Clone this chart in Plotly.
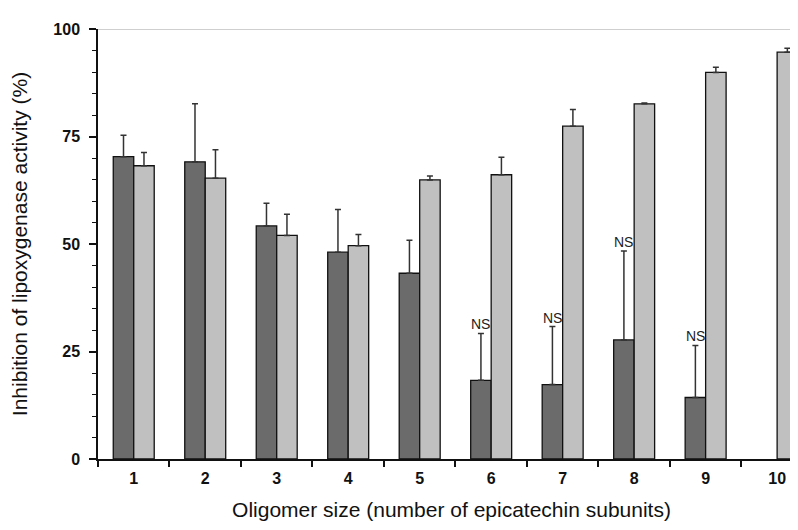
import plotly.graph_objects as go

categories = ["1", "2", "3", "4", "5", "6", "7", "8", "9", "10"]
dark_values = [70.3, 69.1, 54.2, 48.1, 43.2, 18.3, 17.3, 27.7, 14.3, None]
dark_errors = [5.0, 13.5, 5.3, 9.9, 7.7, 10.9, 13.5, 20.7, 12.1, None]
light_values = [68.2, 65.3, 52.0, 49.6, 64.9, 66.1, 77.4, 82.6, 89.9, 94.6]
light_errors = [3.1, 6.6, 4.9, 2.6, 0.9, 4.1, 3.9, 0.2, 1.2, 0.9]
ns_categories = ["6", "7", "8", "9"]
y_tick_vals = [0, 25, 50, 75, 100]

fig = go.Figure()

fig.add_trace(go.Bar(
    x=categories, y=dark_values, name="Series A",
    marker=dict(color="#6b6b6b", line=dict(color="#111111", width=1.3)),
    error_y=dict(type="data", array=dark_errors, arrayminus=[0] * len(dark_errors),
                 symmetric=False, color="#333333", thickness=1.5, width=3),
))
fig.add_trace(go.Bar(
    x=categories, y=light_values, name="Series B",
    marker=dict(color="#c0c0c0", line=dict(color="#111111", width=1.3)),
    error_y=dict(type="data", array=light_errors, arrayminus=[0] * len(light_errors),
                 symmetric=False, color="#333333", thickness=1.5, width=3),
))

bargap = 0.427
cat_px = 707 / 9.89
bar_px = cat_px * (1 - bargap) / 2

for c in ns_categories:
    i = categories.index(c)
    fig.add_annotation(
        x=i, y=dark_values[i] + dark_errors[i], xref="x", yref="y",
        text="NS", showarrow=False, yanchor="bottom", xshift=-bar_px / 2, yshift=-1,
        font=dict(family="Liberation Sans, Arial, sans-serif", size=14, color="#222222"),
    )

fig.add_shape(type="line", xref="paper", yref="y", x0=0, x1=1, y0=100, y1=100,
              line=dict(color="#a0a0a0", width=1.2), layer="below")

fig.update_layout(
    width=798, height=530,
    margin=dict(l=90, r=1, t=21, b=79),
    paper_bgcolor="white", plot_bgcolor="white",
    barmode="group", bargap=bargap, bargroupgap=0,
    showlegend=False,
    font=dict(family="Liberation Sans, Arial, sans-serif", color="#111111"),
)

fig.update_xaxes(
    type="category", range=[-0.5, 9.39],
    showline=True, linecolor="#111111", linewidth=1.5,
    ticks="outside", tickson="boundaries", ticklen=6, tickwidth=1.5, tickcolor="#111111",
    tickfont=dict(size=16, weight="bold", color="#111111"),
    ticklabelstandoff=4,
    showgrid=False, zeroline=False,
    title=dict(text="Oligomer size (number of epicatechin subunits)",
               font=dict(size=21, color="#111111"), standoff=16),
)

fig.update_yaxes(
    range=[0, 100], tickvals=y_tick_vals,
    showline=True, linecolor="#111111", linewidth=1.5,
    ticks="outside", ticklen=7, tickwidth=1.5, tickcolor="#111111",
    minor=dict(dtick=5, ticks="outside", ticklen=4, tickwidth=1.2, tickcolor="#111111", showgrid=False),
    tickfont=dict(size=16, weight="bold", color="#111111"),
    ticklabelstandoff=6,
    showgrid=False, zeroline=False,
    title=dict(text="Inhibition of lipoxygenase activity (%)",
               font=dict(size=21, color="#111111"), standoff=22),
)

fig.write_html("out.html")
